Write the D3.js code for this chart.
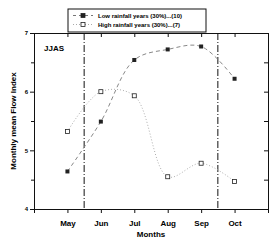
<!DOCTYPE html>
<html>
<head>
<meta charset="utf-8">
<script src="https://cdn.jsdelivr.net/npm/d3@7"></script>
<style>
  body { margin: 0; background: #fff; }
  text { font-family: "Liberation Sans", Arial, sans-serif; font-weight: bold; }
</style>
</head>
<body>
<script>
// data
var months = ["May", "Jun", "Jul", "Aug", "Sep", "Oct"];
var lowRain = [4.64, 5.49, 6.54, 6.72, 6.77, 6.22];
var highRain = [5.32, 6.0, 5.93, 4.55, 4.78, 4.47];
var yTicks = [4, 5, 6, 7];
var markers = [1.5, 5.5]; // dash-dot lines between months

var w = 276, h = 247;
var svg = d3.select("body").append("svg")
  .attr("width", w).attr("height", h);

// x: 0 = Apr ... 7 = Nov
var x = d3.scaleLinear().domain([0, 7]).range([34, 268]);
var y = d3.scaleLinear().domain([4, 7]).range([209, 33]);

var axisG = svg.append("g");

// bottom axis
var bottom = axisG.append("g").attr("transform", "translate(0," + y(4) + ")")
  .call(d3.axisBottom(x).tickValues(d3.range(0, 8)).tickSize(4)
    .tickFormat(function(d) { return months[d - 1] || ""; }));
bottom.selectAll("text").attr("dy", 10).style("font-size", "8px");

// top axis (inner ticks, no labels)
axisG.append("g").attr("transform", "translate(0," + y(7) + ")")
  .call(d3.axisTop(x).tickValues(d3.range(0, 8)).tickSize(-4).tickFormat(""));

// left axis
var left = axisG.append("g").attr("transform", "translate(" + x(0) + ",0)")
  .call(d3.axisLeft(y).tickValues(yTicks).tickSize(4).tickFormat(d3.format("d")));
left.selectAll("text").style("font-size", "6px").attr("x", -6);
axisG.append("g").attr("transform", "translate(" + x(0) + ",0)")
  .call(d3.axisLeft(y).tickValues([4.5, 5.5, 6.5]).tickSize(3).tickFormat(""));

// right axis (inner ticks)
axisG.append("g").attr("transform", "translate(" + x(7) + ",0)")
  .call(d3.axisRight(y).tickValues([4, 4.5, 5, 5.5, 6, 6.5, 7]).tickSize(-4).tickFormat(""));

axisG.selectAll(".domain").attr("stroke", "#111").attr("stroke-width", 1);
axisG.selectAll(".tick line").attr("stroke", "#111");

// dash-dot separators
svg.selectAll("line.sep")
  .data(markers)
  .enter()
  .append("line")
  .attr("class", "sep")
  .attr("x1", function(d) { return x(d); })
  .attr("x2", function(d) { return x(d); })
  .attr("y1", y(7))
  .attr("y2", y(4))
  .attr("stroke", "#111")
  .attr("stroke-width", 1)
  .attr("stroke-dasharray", "7,2,1,2");

var line = d3.line()
  .curve(d3.curveCatmullRom)
  .x(function(d, i) { return x(i + 1); })
  .y(function(d) { return y(d); });

// high rainfall - dotted light gray
svg.append("path").datum(highRain)
  .attr("d", line).attr("fill", "none")
  .attr("stroke", "#b0b0b0").attr("stroke-width", 1)
  .attr("stroke-dasharray", "1,2");

// low rainfall - dashed gray
svg.append("path").datum(lowRain)
  .attr("d", line).attr("fill", "none")
  .attr("stroke", "#888").attr("stroke-width", 1)
  .attr("stroke-dasharray", "4,3");

svg.selectAll("rect.low")
  .data(lowRain)
  .enter()
  .append("rect")
  .attr("class", "low")
  .attr("x", function(d, i) { return x(i + 1) - 2; })
  .attr("y", function(d) { return y(d) - 2; })
  .attr("width", 4).attr("height", 4)
  .attr("fill", "#222");

svg.selectAll("rect.high")
  .data(highRain)
  .enter()
  .append("rect")
  .attr("class", "high")
  .attr("x", function(d, i) { return x(i + 1) - 2; })
  .attr("y", function(d) { return y(d) - 2; })
  .attr("width", 4).attr("height", 4)
  .attr("fill", "#fff").attr("stroke", "#222").attr("stroke-width", 0.8);

// labels
svg.append("text").attr("x", 44).attr("y", 51)
  .style("font-size", "8px").text("JJAS");

svg.append("text").attr("x", (x(0) + x(7)) / 2).attr("y", 237)
  .attr("text-anchor", "middle").style("font-size", "8px").text("Months");

svg.append("text")
  .attr("transform", "translate(16," + (y(5.5)) + ") rotate(-90)")
  .attr("text-anchor", "middle").style("font-size", "8px")
  .text("Monthly mean Flow Index");

// legend
var lg = svg.append("g");
lg.append("rect").attr("x", 68).attr("y", 9).attr("width", 138).attr("height", 23)
  .attr("fill", "#fff").attr("stroke", "#111").attr("stroke-width", 1);

var legendItems = [
  { label: "Low rainfall years (30%)...(10)", dash: "3,3", stroke: "#777", fill: "#222" },
  { label: "High rainfall years (30%)...(7)", dash: "1,2", stroke: "#aaa", fill: "#fff" }
];
legendItems.forEach(function(it, i) {
  var yy = 15.5 + i * 9;
  lg.append("line").attr("x1", 73).attr("x2", 93).attr("y1", yy).attr("y2", yy)
    .attr("stroke", it.stroke).attr("stroke-dasharray", it.dash);
  lg.append("rect").attr("x", 81).attr("y", yy - 2).attr("width", 4).attr("height", 4)
    .attr("fill", it.fill).attr("stroke", "#222").attr("stroke-width", 0.8);
  lg.append("text").attr("x", 98).attr("y", yy + 2)
    .style("font-size", "6px").text(it.label);
});
</script>
</body>
</html>
